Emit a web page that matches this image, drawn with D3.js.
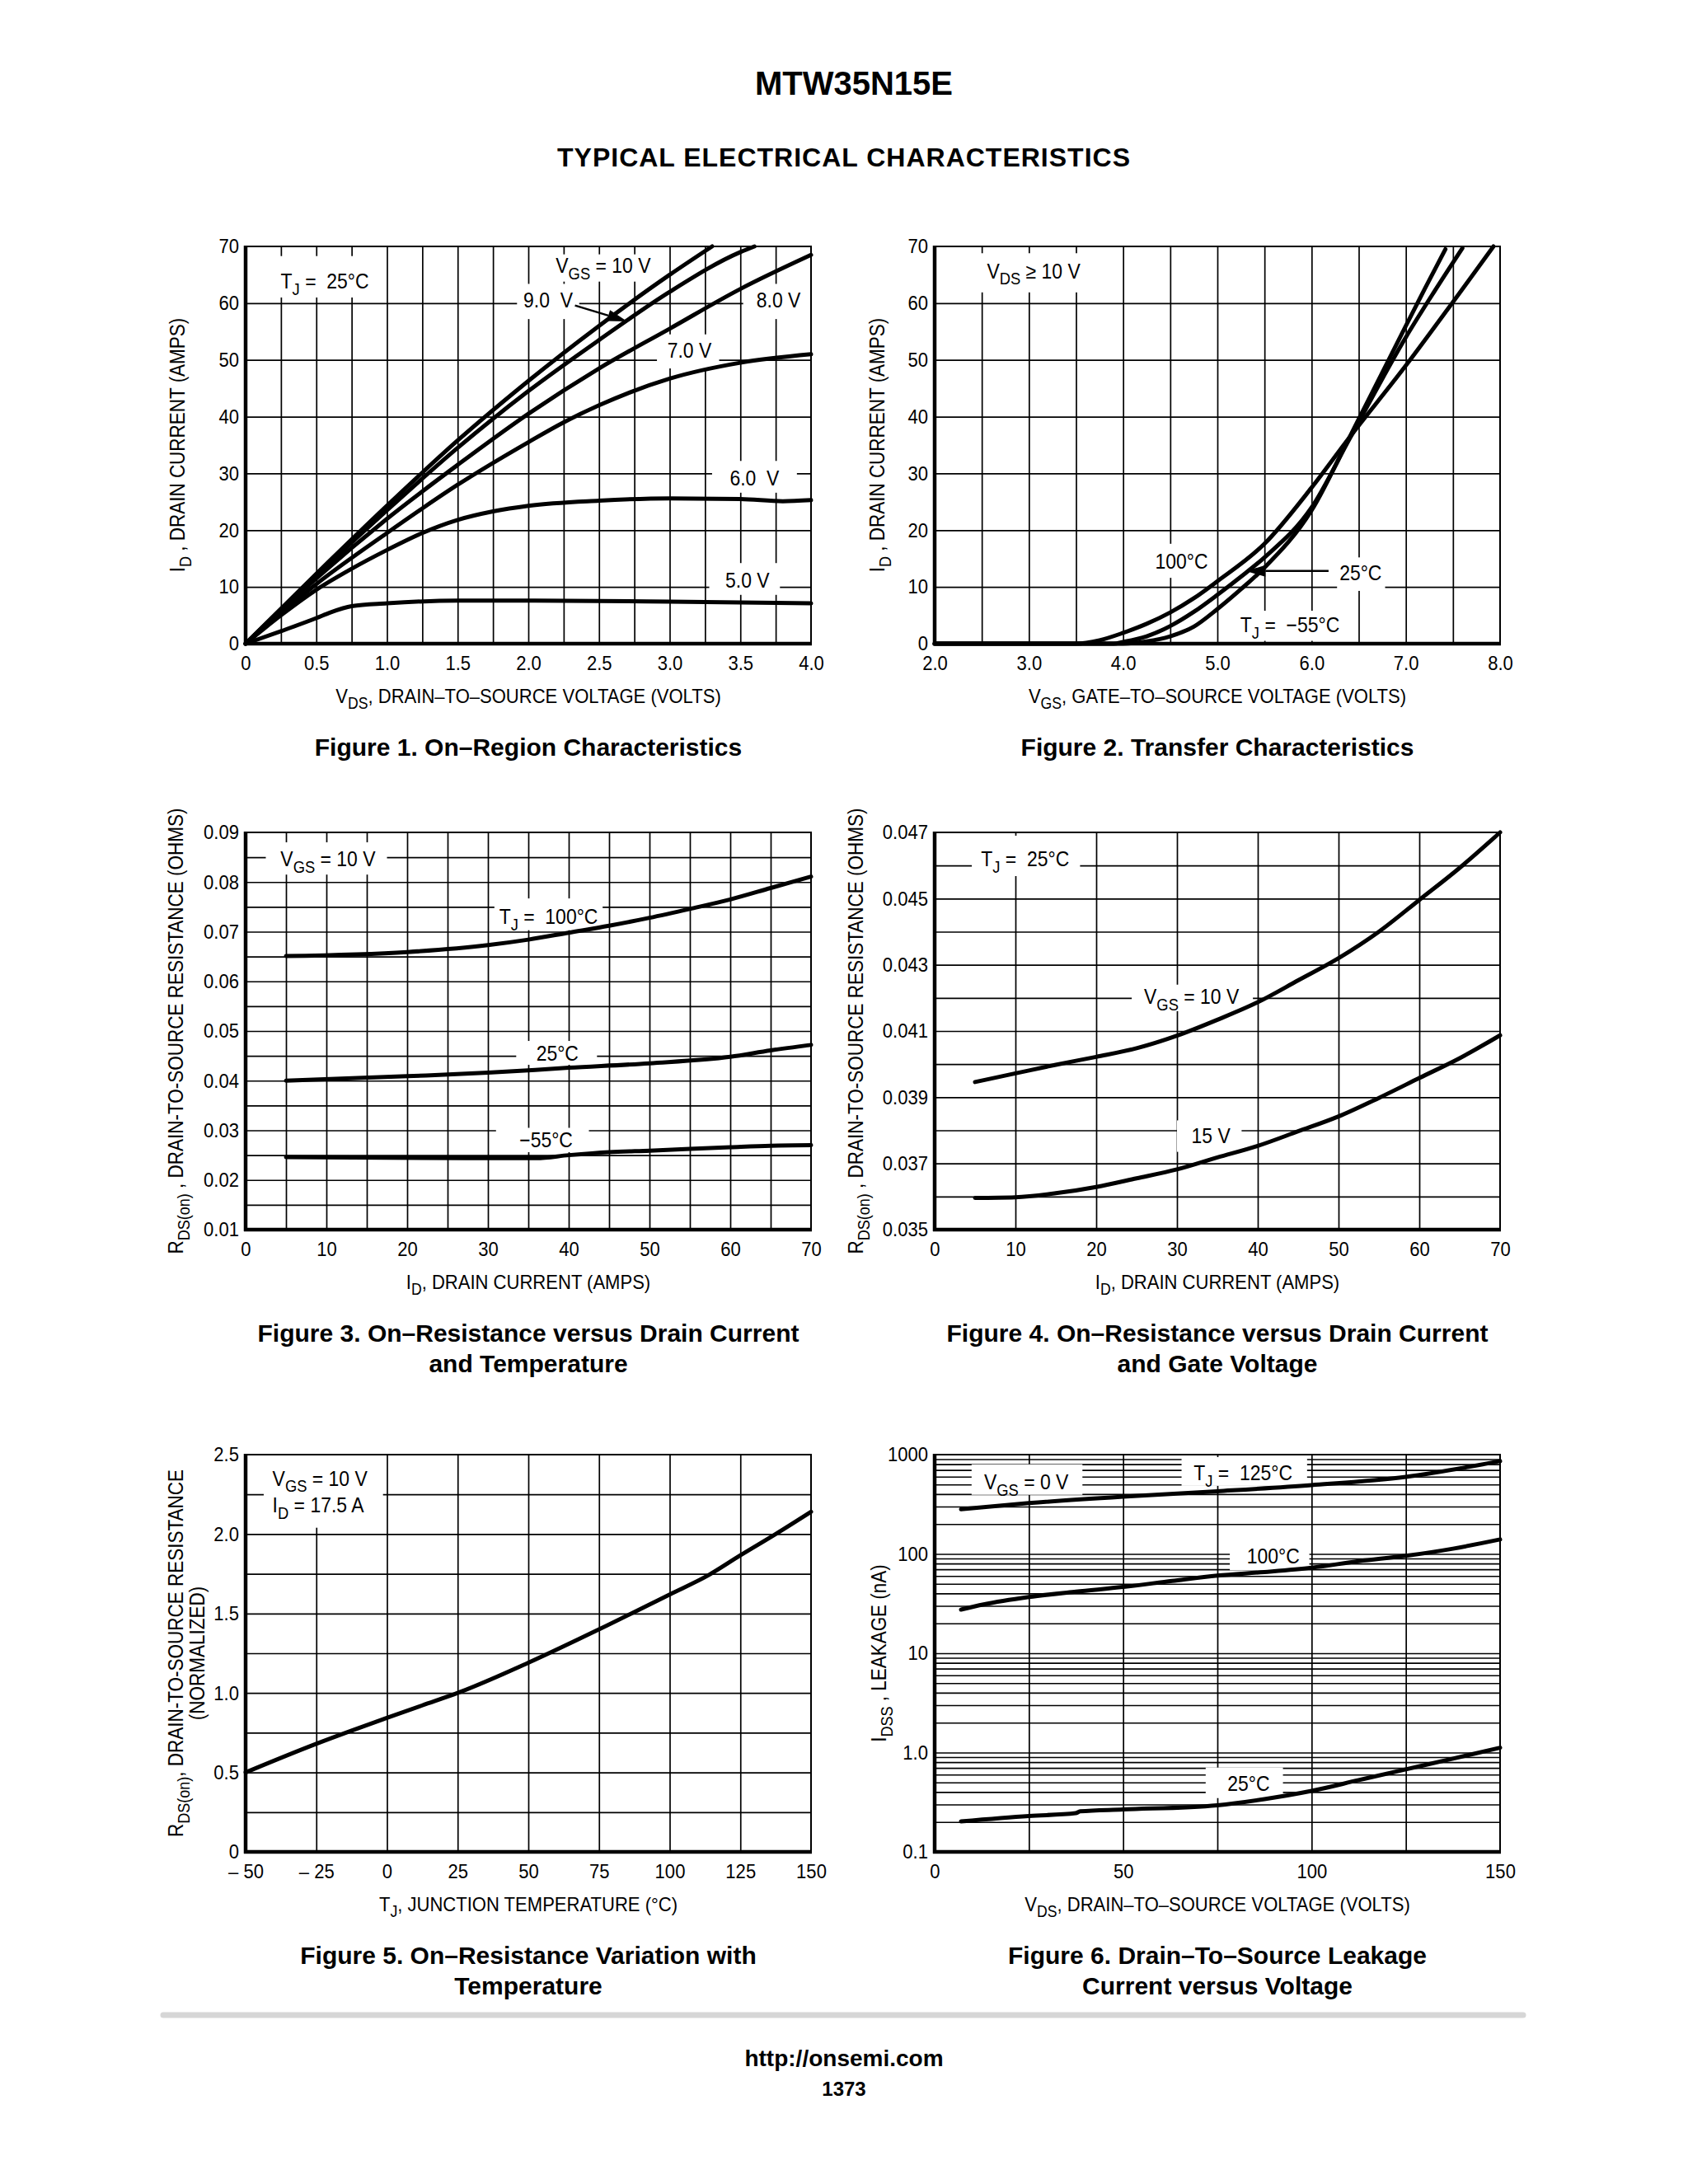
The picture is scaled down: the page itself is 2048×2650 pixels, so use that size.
<!DOCTYPE html>
<html>
<head>
<meta charset="utf-8">
<script src="https://cdn.jsdelivr.net/npm/d3@7"></script>
<style>
  body { margin: 0; background: #fff; }
  text { white-space: pre; }
</style>
</head>
<body>
<script>
// ---- data ----

// Figure 1: VDS (V) vs ID (A), one series per VGS
var fig1Vgs10 = [[0,0],[0.5,12.3],[1.0,24.3],[1.5,35.8],[2.0,46.3],[2.5,56],[3.0,65],[3.3,70]];
var fig1Vgs9  = [[0,0],[0.5,12],[1.0,23.5],[1.5,34.5],[2.0,44.5],[2.5,53.5],[3.0,62],[3.5,69],[3.6,70]];
var fig1Vgs8  = [[0,0],[0.5,11.5],[1.0,22],[1.5,31.5],[2.0,40.5],[2.5,48.5],[3.0,55.5],[3.5,62.5],[4.0,68.5]];
var fig1Vgs7  = [[0,0],[0.5,10.5],[1.0,19.5],[1.5,28],[2.0,35.5],[2.25,39],[2.5,42],[3.0,46.7],[3.5,49.5],[4.0,51]];
var fig1Vgs6  = [[0,0],[0.25,5],[0.5,9.5],[0.75,13.2],[1.0,16.5],[1.25,19.5],[1.5,21.8],[1.75,23.3],[2.0,24.3],[2.5,25.2],[3.0,25.6],[3.5,25.5],[3.8,25.1],[4.0,25.3]];
var fig1Vgs5  = [[0,0],[0.25,2.2],[0.5,4.5],[0.6,5.5],[0.75,6.6],[1.0,7.1],[1.5,7.6],[2.0,7.6],[3.0,7.4],[4.0,7.1]];

// Figure 2: VGS (V) vs ID (A), one series per TJ
var fig2T100 = [[2.0,0],[3.5,0],[3.75,0.6],[4.0,1.9],[4.25,3.5],[4.5,5.5],[4.75,8.0],[5.0,11],[5.5,17.6],[6.0,27.5],[6.4,36.3],[7.0,49],[7.5,60.2],[7.93,70]];
var fig2T25  = [[2.0,0],[3.9,0],[4.0,0.3],[4.25,1.3],[4.5,3.1],[4.75,5.6],[5.0,8.6],[5.25,11.8],[5.5,15.2],[6.0,24],[6.4,36],[7.0,54],[7.3,62],[7.6,69.7]];
var fig2Tm55 = [[2.0,0],[4.0,0],[4.25,0.4],[4.5,1.3],[4.75,3.0],[5.0,6.1],[5.25,9.6],[5.5,13.4],[6.0,23.5],[6.4,36.3],[7.0,56],[7.2,62.5],[7.42,69.5]];

// Figure 3: ID (A) vs RDS(on) (ohms), one series per TJ
var fig3T100 = [[5,0.0651],[20,0.0659],[30,0.0673],[35,0.0684],[40,0.0698],[45,0.0712],[50,0.0728],[55,0.0746],[60,0.0765],[65,0.0788],[70,0.0811]];
var fig3T25  = [[5,0.0400],[20,0.0409],[30,0.0416],[40,0.0426],[50,0.0435],[60,0.0448],[65,0.0461],[70,0.0472]];
var fig3Tm55 = [[5,0.0246],[30,0.0244],[36,0.0244],[40,0.0250],[45,0.0256],[50,0.0259],[60,0.0266],[65,0.0269],[70,0.0270]];

// Figure 4: ID (A) vs RDS(on) (ohms), one series per VGS
var fig4Vgs10 = [[5,0.03946],[10,0.03972],[15,0.03998],[20,0.04022],[25,0.04048],[30,0.04086],[35,0.04134],[40,0.04187],[45,0.04253],[50,0.0432],[55,0.04400],[60,0.04496],[65,0.04593],[70,0.04700]];
var fig4Vgs15 = [[5,0.03596],[10,0.03598],[15,0.03610],[20,0.03629],[25,0.03655],[30,0.03682],[35,0.03718],[40,0.03753],[45,0.03797],[50,0.03842],[55,0.03898],[60,0.03958],[65,0.04018],[70,0.04087]];

// Figure 5: TJ (C) vs normalized RDS(on)
var fig5Rds = [[-50,0.50],[-25,0.68],[-12.5,0.763],[0,0.843],[12.5,0.922],[25,1.0],[50,1.19],[75,1.40],[100,1.62],[113.8,1.742],[125,1.866],[137.5,2.0],[150,2.14]];

// Figure 6: VDS (V) vs IDSS (nA), one series per TJ
var fig6T125 = [[7,282],[25,325],[50,378],[75,428],[100,493],[125,597],[150,860]];
var fig6T100 = [[7,27.5],[13,31],[25,36.8],[37.5,41.7],[50,46.5],[63,53.5],[75,60.6],[87.5,65.8],[100,72.7],[112.5,84.5],[125,95.7],[137.5,113],[150,140]];
var fig6T25  = [[7,0.203],[25,0.23],[37.4,0.245],[38.6,0.256],[50,0.267],[75,0.295],[87.5,0.34],[100,0.411],[112.5,0.528],[125,0.678],[137.5,0.869],[150,1.12]];

// tick values
var fig1XTicks = [0,0.5,1.0,1.5,2.0,2.5,3.0,3.5,4.0];
var fig1YTicks = [0,10,20,30,40,50,60,70];
var fig2XTicks = [2,3,4,5,6,7,8];
var fig3XTicks = [0,10,20,30,40,50,60,70];
var fig3YTicks = [0.01,0.02,0.03,0.04,0.05,0.06,0.07,0.08,0.09];
var fig4YTicks = [0.035,0.037,0.039,0.041,0.043,0.045,0.047];
var fig5XTicks = [-50,-25,0,25,50,75,100,125,150];
var fig5YTicks = [0,0.5,1.0,1.5,2.0,2.5];
var fig6XTicks = [0,50,100,150];
var fig6YTicks = [0.1,1,10,100,1000];

var FONT = "'Liberation Sans', Arial, Helvetica, sans-serif";
var NARROW = "scale(0.9,1)";
var svgWidth = 2048;
var svgHeight = 2650;

var svg = d3.select("body")
  .append("svg")
  .attr("width", svgWidth)
  .attr("height", svgHeight)
  .attr("font-family", FONT);

svg.append("rect").attr("width", svgWidth).attr("height", svgHeight).attr("fill", "#fff");

// text with subscripts: parts are plain strings or {sub: "..."}
function rich(t, parts, fs) {
  var down = false;
  parts.forEach(function (p) {
    var isSub = typeof p === "object";
    var ts = t.append("tspan").text(isSub ? p.sub : p);
    if (isSub) {
      ts.attr("dy", fs * 0.3).attr("font-size", fs * 0.8);
      down = true;
    } else if (down) {
      ts.attr("dy", -fs * 0.3);
      down = false;
    }
  });
  return t;
}

function range(a, b, step) {
  var out = [];
  for (var v = a; v <= b + 1e-9; v += step) out.push(+v.toFixed(6));
  return out;
}

var colLeft = [298, 1134];
var rowTop = [299, 1010, 1765];
var pw = 686, ph = 482;

function makePanel(o) {
  var g = svg.append("g").attr("transform", `translate(${o.left}, ${o.top})`);
  var x = d3.scaleLinear().domain(o.xDomain).range([0, pw]);
  var y = (o.log ? d3.scaleLog() : d3.scaleLinear()).domain(o.yDomain).range([ph, 0]);

  // grid
  g.append("g")
    .call(d3.axisBottom(x).tickValues(o.xGrid).tickSize(ph).tickFormat(""))
    .call(a => a.select(".domain").remove())
    .selectAll("line").attr("stroke", "#000").attr("stroke-width", 1.7);
  g.append("g")
    .call(d3.axisLeft(y).tickValues(o.yGrid).tickSize(-pw).tickFormat(""))
    .call(a => a.select(".domain").remove())
    .selectAll("line").attr("stroke", "#000").attr("stroke-width", 1.7);

  var layers = {
    boxes: g.append("g"),
    curves: g.append("g"),
    frame: g.append("g"),
    text: g.append("g")
  };

  // frame
  layers.frame.append("rect").attr("width", pw).attr("height", ph)
    .attr("fill", "none").attr("stroke", "#000").attr("stroke-width", 2);
  layers.frame.append("line").attr("x1", 0).attr("x2", 0).attr("y1", -1).attr("y2", ph + 2)
    .attr("stroke", "#000").attr("stroke-width", 4.5);
  layers.frame.append("line").attr("x1", -2).attr("x2", pw + 1).attr("y1", ph).attr("y2", ph)
    .attr("stroke", "#000").attr("stroke-width", 4.5);

  // tick labels
  g.append("g").attr("transform", `translate(0, ${ph})`)
    .call(d3.axisBottom(x).tickValues(o.xTicks).tickFormat(o.xFmt).tickSize(0).tickPadding(15))
    .call(a => a.select(".domain").remove())
    .selectAll("text").attr("font-size", 24.5).attr("font-family", FONT).attr("fill", "#000")
    .attr("transform", NARROW);
  g.append("g")
    .call(d3.axisLeft(y).tickValues(o.yTicks).tickFormat(o.yFmt).tickSize(0).tickPadding(9))
    .call(a => a.select(".domain").remove())
    .selectAll("text").attr("font-size", 24.5).attr("font-family", FONT).attr("fill", "#000")
    .attr("transform", NARROW);

  // axis titles
  rich(g.append("text").attr("transform", `translate(${pw / 2}, ${ph + 72}) ${NARROW}`)
    .attr("text-anchor", "middle").attr("font-size", 24.5), o.xTitle, 24.5);
  o.yTitle.forEach(function (parts, i) {
    rich(g.append("text")
      .attr("transform", `translate(${-o.yOff[i]}, ${ph / 2}) rotate(-90) ${NARROW}`)
      .attr("text-anchor", "middle").attr("font-size", 25), parts, 25);
  });

  // caption
  o.caption.forEach(function (c, i) {
    g.append("text").attr("x", pw / 2).attr("y", ph + 136 + i * 37)
      .attr("text-anchor", "middle").attr("font-size", 30).attr("font-weight", "bold").text(c);
  });

  var line = d3.line().x(d => x(d[0])).y(d => y(d[1])).curve(d3.curveMonotoneX);
  o.series.forEach(function (s) {
    layers.curves.append("path").attr("d", line(s)).attr("fill", "none")
      .attr("stroke", "#000").attr("stroke-width", 5).attr("stroke-linecap", "round")
      .attr("stroke-linejoin", "round");
  });

  (o.boxes || []).forEach(function (b) {
    layers.boxes.append("rect")
      .attr("x", x(b[0])).attr("width", x(b[1]) - x(b[0]))
      .attr("y", y(b[3])).attr("height", y(b[2]) - y(b[3]))
      .attr("fill", "#fff");
  });

  o.labels.forEach(function (l) {
    rich(layers.text.append("text")
      .attr("transform", `translate(${x(l.x)}, ${y(l.y)}) ${NARROW}`)
      .attr("text-anchor", l.anchor || "middle").attr("font-size", 25.5), l.parts, 25.5);
  });

  (o.arrows || []).forEach(function (a) {
    var x1 = x(a[0][0]), y1 = y(a[0][1]), x2 = x(a[1][0]), y2 = y(a[1][1]);
    var ang = Math.atan2(y2 - y1, x2 - x1), L = 24, hw = 7;
    var bx = x2 - L * Math.cos(ang), by = y2 - L * Math.sin(ang);
    layers.text.append("line").attr("x1", x1).attr("y1", y1).attr("x2", bx).attr("y2", by)
      .attr("stroke", "#000").attr("stroke-width", 2.5);
    layers.text.append("path")
      .attr("d", `M${x2},${y2}L${bx - hw * Math.sin(ang)},${by + hw * Math.cos(ang)}L${bx + hw * Math.sin(ang)},${by - hw * Math.cos(ang)}Z`)
      .attr("fill", "#000");
  });

  return { g: g, x: x, y: y };
}

// page headings
svg.append("text").attr("x", 1036).attr("y", 115).attr("text-anchor", "middle")
  .attr("font-size", 40).attr("font-weight", "bold").text("MTW35N15E");
svg.append("text").attr("x", 1024).attr("y", 202).attr("text-anchor", "middle")
  .attr("font-size", 32).attr("letter-spacing", 1).attr("font-weight", "bold")
  .text("TYPICAL ELECTRICAL CHARACTERISTICS");

var f1 = d3.format(".1f");

// Figure 1
makePanel({
  left: colLeft[0], top: rowTop[0],
  xDomain: [0, 4], yDomain: [0, 70],
  xGrid: range(0.25, 3.75, 0.25), yGrid: range(10, 60, 10),
  xTicks: fig1XTicks, yTicks: fig1YTicks,
  xFmt: d => d === 0 ? "0" : f1(d), yFmt: d => d,
  xTitle: ["V", {sub: "DS"}, ", DRAIN\u2013TO\u2013SOURCE VOLTAGE (VOLTS)"],
  yTitle: [["I", {sub: "D"}, " , DRAIN CURRENT (AMPS)"]], yOff: [74],
  caption: ["Figure 1. On\u2013Region Characteristics"],
  series: [fig1Vgs10, fig1Vgs9, fig1Vgs8, fig1Vgs7, fig1Vgs6, fig1Vgs5],
  boxes: [[0.2, 0.92, 61, 68.3], [2.15, 2.92, 63.8, 68.6], [1.92, 2.36, 57.2, 63.4],
          [3.52, 4.0, 57.2, 63.4], [2.91, 3.35, 48.5, 54.5], [3.3, 3.9, 26.6, 32.2], [3.28, 3.78, 8.6, 14.2]],
  labels: [
    {x: 0.56, y: 62.6, parts: ["T", {sub: "J"}, " =  25\u00b0C"]},
    {x: 2.53, y: 65.3, parts: ["V", {sub: "GS"}, " = 10 V"]},
    {x: 2.14, y: 59.2, parts: ["9.0  V"]},
    {x: 3.77, y: 59.2, parts: ["8.0 V"]},
    {x: 3.14, y: 50.4, parts: ["7.0 V"]},
    {x: 3.6, y: 27.9, parts: ["6.0  V"]},
    {x: 3.55, y: 9.9, parts: ["5.0 V"]}
  ],
  arrows: [[[2.33, 59.6], [2.70, 56.8]]]
});

// Figure 2
makePanel({
  left: colLeft[1], top: rowTop[0],
  xDomain: [2, 8], yDomain: [0, 70],
  xGrid: range(2.5, 7.5, 0.5), yGrid: range(10, 60, 10),
  xTicks: fig2XTicks, yTicks: fig1YTicks,
  xFmt: f1, yFmt: d => d,
  xTitle: ["V", {sub: "GS"}, ", GATE\u2013TO\u2013SOURCE VOLTAGE (VOLTS)"],
  yTitle: [["I", {sub: "D"}, " , DRAIN CURRENT (AMPS)"]], yOff: [61],
  caption: ["Figure 2. Transfer Characteristics"],
  series: [fig2T100, fig2T25, fig2Tm55],
  boxes: [[2.45, 3.65, 61.9, 68.8], [4.3, 4.97, 11.6, 17.6], [6.27, 6.78, 9.3, 15.2], [5.2, 6.35, 0.5, 5.8]],
  labels: [
    {x: 3.05, y: 64.4, parts: ["V", {sub: "DS"}, " \u2265 10 V"]},
    {x: 4.62, y: 13.2, parts: ["100\u00b0C"]},
    {x: 6.52, y: 11.2, parts: ["25\u00b0C"]},
    {x: 5.77, y: 2.0, parts: ["T", {sub: "J"}, " =  \u221255\u00b0C"]}
  ],
  arrows: [[[6.18, 12.8], [5.30, 12.8]]]
});

// Figure 3
makePanel({
  left: colLeft[0], top: rowTop[1],
  xDomain: [0, 70], yDomain: [0.01, 0.09],
  xGrid: range(5, 65, 5), yGrid: range(0.015, 0.085, 0.005),
  xTicks: fig3XTicks, yTicks: fig3YTicks,
  xFmt: d => d, yFmt: d3.format(".2f"),
  xTitle: ["I", {sub: "D"}, ", DRAIN CURRENT (AMPS)"],
  yTitle: [["R", {sub: "DS(on)"}, " , DRAIN-TO-SOURCE RESISTANCE (OHMS)"]], yOff: [76],
  caption: ["Figure 3. On\u2013Resistance versus Drain Current", "and Temperature"],
  series: [fig3T100, fig3T25, fig3Tm55],
  boxes: [[2.5, 17.5, 0.0815, 0.088], [30.8, 44.2, 0.0703, 0.0767], [33.5, 43.5, 0.0432, 0.048], [31, 42.5, 0.0256, 0.0305]],
  labels: [
    {x: 10.2, y: 0.0832, parts: ["V", {sub: "GS"}, " = 10 V"]},
    {x: 37.5, y: 0.0716, parts: ["T", {sub: "J"}, " =  100\u00b0C"]},
    {x: 38.6, y: 0.0441, parts: ["25\u00b0C"]},
    {x: 37.2, y: 0.0266, parts: ["\u221255\u00b0C"]}
  ]
});

// Figure 4
makePanel({
  left: colLeft[1], top: rowTop[1],
  xDomain: [0, 70], yDomain: [0.035, 0.047],
  xGrid: range(10, 60, 10), yGrid: range(0.036, 0.046, 0.001),
  xTicks: fig3XTicks, yTicks: fig4YTicks,
  xFmt: d => d, yFmt: d3.format(".3f"),
  xTitle: ["I", {sub: "D"}, ", DRAIN CURRENT (AMPS)"],
  yTitle: [["R", {sub: "DS(on)"}, " , DRAIN-TO-SOURCE RESISTANCE (OHMS)"]], yOff: [87],
  caption: ["Figure 4. On\u2013Resistance versus Drain Current", "and Gate Voltage"],
  series: [fig4Vgs10, fig4Vgs15],
  boxes: [[4.6, 18, 0.04568, 0.0469], [24.4, 39.4, 0.0416, 0.0424], [30, 38, 0.03735, 0.0383]],
  labels: [
    {x: 11.2, y: 0.04598, parts: ["T", {sub: "J"}, " =  25\u00b0C"]},
    {x: 31.8, y: 0.04181, parts: ["V", {sub: "GS"}, " = 10 V"]},
    {x: 34.2, y: 0.03762, parts: ["15 V"]}
  ]
});

// Figure 5
makePanel({
  left: colLeft[0], top: rowTop[2],
  xDomain: [-50, 150], yDomain: [0, 2.5],
  xGrid: range(-25, 125, 25), yGrid: range(0.25, 2.25, 0.25),
  xTicks: fig5XTicks, yTicks: fig5YTicks,
  xFmt: d => d < 0 ? "\u2013 " + Math.abs(d) : d, yFmt: d => d === 0 ? "0" : f1(d),
  xTitle: ["T", {sub: "J"}, ", JUNCTION TEMPERATURE (\u00b0C)"],
  yTitle: [["R", {sub: "DS(on)"}, ", DRAIN-TO-SOURCE RESISTANCE"], ["(NORMALIZED)"]], yOff: [76, 50],
  caption: ["Figure 5. On\u2013Resistance Variation with", "Temperature"],
  series: [fig5Rds],
  boxes: [[-43.6, -1.4, 2.04, 2.5]],
  labels: [
    {x: -40.5, y: 2.305, anchor: "start", parts: ["V", {sub: "GS"}, " = 10 V"]},
    {x: -40.5, y: 2.135, anchor: "start", parts: ["I", {sub: "D"}, " = 17.5 A"]}
  ]
});

// Figure 6
var fig6Grid = [];
[0.1, 1, 10, 100].forEach(function (dec) {
  for (var k = 1; k <= 9; k++) fig6Grid.push(+(dec * k).toPrecision(3));
});
makePanel({
  left: colLeft[1], top: rowTop[2], log: true,
  xDomain: [0, 150], yDomain: [0.1, 1000],
  xGrid: range(25, 125, 25), yGrid: fig6Grid.slice(1),
  xTicks: fig6XTicks, yTicks: fig6YTicks,
  xFmt: d => d, yFmt: d => d === 1 ? "1.0" : String(d),
  xTitle: ["V", {sub: "DS"}, ", DRAIN\u2013TO\u2013SOURCE VOLTAGE (VOLTS)"],
  yTitle: [["I", {sub: "DSS"}, " , LEAKAGE (nA)"]], yOff: [59],
  caption: ["Figure 6. Drain\u2013To\u2013Source Leakage", "Current versus Voltage"],
  series: [fig6T125, fig6T100, fig6T25],
  boxes: [[9.8, 39.2, 394, 798], [65.5, 98.8, 485, 944], [78.3, 99.4, 68.5, 134], [71.9, 92.4, 0.348, 0.706]],
  labels: [
    {x: 24.3, y: 447, parts: ["V", {sub: "GS"}, " = 0 V"]},
    {x: 81.8, y: 550, parts: ["T", {sub: "J"}, " =  125\u00b0C"]},
    {x: 89.8, y: 81, parts: ["100\u00b0C"]},
    {x: 83.3, y: 0.41, parts: ["25\u00b0C"]}
  ]
});

// footer
svg.append("line").attr("x1", 198).attr("x2", 1848).attr("y1", 2445).attr("y2", 2445)
  .attr("stroke", "#d6d6d6").attr("stroke-width", 7).attr("stroke-linecap", "round");
svg.append("text").attr("x", 1024).attr("y", 2507).attr("text-anchor", "middle")
  .attr("font-size", 28).attr("font-weight", "bold").text("http://onsemi.com");
svg.append("text").attr("x", 1024).attr("y", 2543).attr("text-anchor", "middle")
  .attr("font-size", 24).attr("font-weight", "bold").text("1373");
</script>
</body>
</html>
